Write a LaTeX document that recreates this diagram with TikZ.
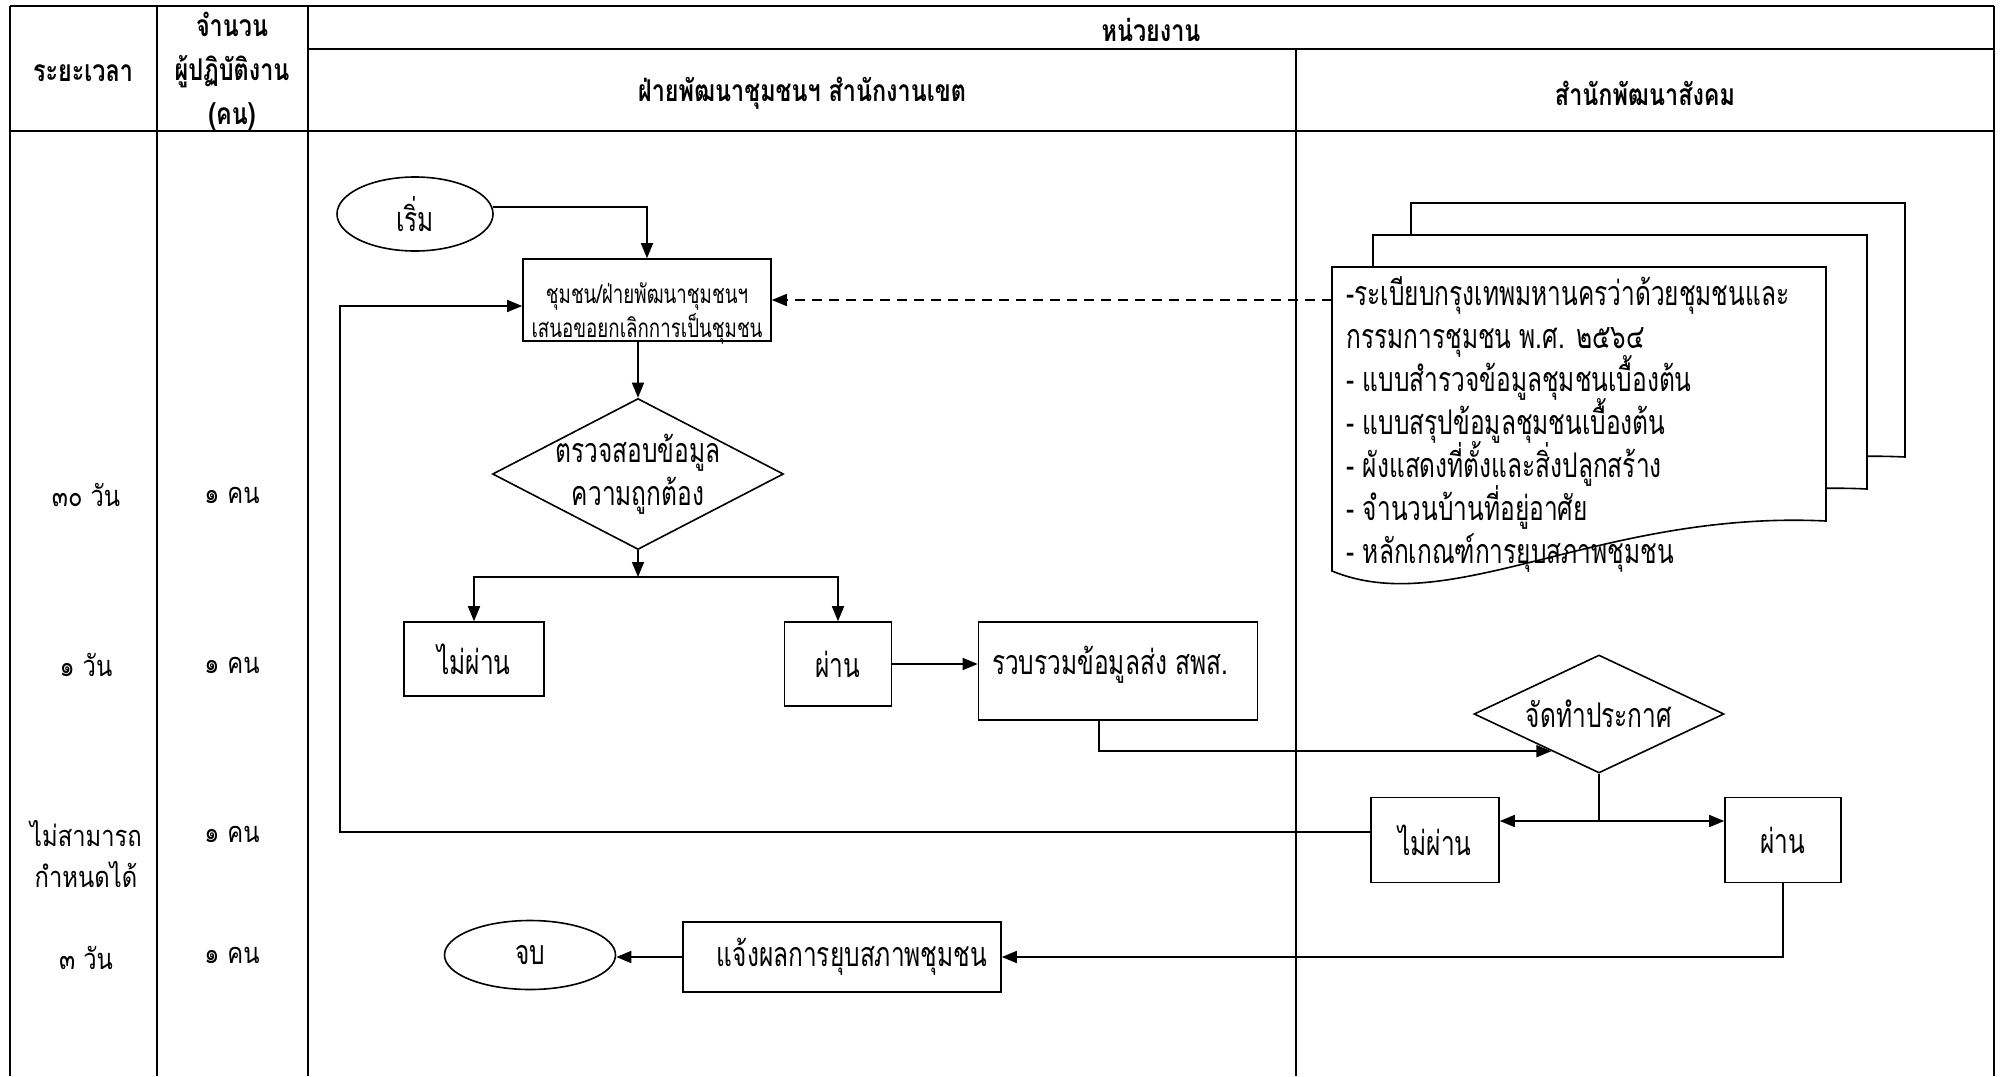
\documentclass[tikz,border=0pt]{standalone}
\usepackage{fontspec}
\usetikzlibrary{shapes.geometric,arrows.meta,calc}
% Thai faces: condensed for flowchart text, bold for the table header
\newfontfamily\thaibody[Script=Thai,FakeStretch=0.72]{Loma}
\newfontfamily\thaihead[Script=Thai,FakeStretch=0.78]{Loma}
\newfontfamily\thairow[Script=Thai,FakeStretch=0.82]{Loma}
% fixed line pitch even when tone marks stack high
\newcommand\tightlines{\lineskiplimit=-100pt\lineskip=0pt}

\begin{document}
\begin{tikzpicture}[x=1pt,y=-1pt,
  grid/.style={line width=2.2pt},
  shp/.style={draw,line width=1.6pt,fill=white,inner sep=0pt},
  boxn/.style={shp,rectangle},
  dia/.style={shp,diamond},
  oval/.style={shp,ellipse},
  body/.style={font=\thaibody\fontsize{34}{43}\selectfont\tightlines},
  small/.style={font=\thaibody\fontsize{26}{34}\selectfont\tightlines},
  head/.style={font=\thaihead\bfseries\fontsize{30}{44}\selectfont\tightlines,align=center},
  rowt/.style={font=\thairow\fontsize{29}{41}\selectfont\tightlines,align=center},
  flow/.style={line width=1.6pt,-{Triangle[length=15pt,width=12pt]}},
  plain/.style={line width=1.6pt},
  docsheet/.pic={\draw[line width=1.6pt,fill=white]
    (0,0) -- (494,0) -- (494,254) .. controls (268,243) and (118,353) .. (0,304) -- cycle;},
]
\useasboundingbox (0,0) rectangle (2002,1076);
\fill[white] (0,0) rectangle (2002,1076);

% ---- table frame ----
\draw[grid] (10,6) -- (1994,6);
\draw[grid] (308,49) -- (1994,49);
\draw[grid] (10,131) -- (1994,131);
\draw[grid] (10,6) -- (10,1076);
\draw[grid] (157,6) -- (157,1076);
\draw[grid] (308,6) -- (308,1076);
\draw[grid] (1296,49) -- (1296,1076);
\draw[grid] (1994,6) -- (1994,1076);

% ---- header ----
\node[head] (hTime) at (83,73) {ระยะเวลา};
\node[head] (hStaff) at (232,71) {จำนวน\\ผู้ปฏิบัติงาน\\(คน)};
\node[head] (hUnit) at (1151,30) {หน่วยงาน};
\node[head] (hDist) at (802,93) {ฝ่ายพัฒนาชุมชนฯ สำนักงานเขต};
\node[head] (hSoc) at (1645,93) {สำนักพัฒนาสังคม};

% ---- time and staff per step ----
\node[rowt] (t1) at (86,495) {๓๐ วัน};
\node[rowt] (t2) at (86,665) {๑ วัน};
\node[rowt] (t3) at (86,854) {ไม่สามารถ\\กำหนดได้};
\node[rowt] (t4) at (86,958) {๓ วัน};
\node[rowt] (s1) at (232,495) {๑ คน};
\node[rowt] (s2) at (232,665) {๑ คน};
\node[rowt] (s3) at (232,834) {๑ คน};
\node[rowt] (s4) at (232,955) {๑ คน};

% ---- document stack ----
\pic at (1411,203) {docsheet};
\pic at (1373,235) {docsheet};
\pic at (1332,267) {docsheet};
\coordinate (docw) at (1332,300);
\node[body,anchor=north west,align=left] (doctext) at (1343,273)
  {-ระเบียบกรุงเทพมหานครว่าด้วยชุมชนและ\\
   กรรมการชุมชน พ.ศ. ๒๕๖๔\\
   - แบบสำรวจข้อมูลชุมชนเบื้องต้น\\
   - แบบสรุปข้อมูลชุมชนเบื้องต้น\\
   - ผังแสดงที่ตั้งและสิ่งปลูกสร้าง\\
   - จำนวนบ้านที่อยู่อาศัย\\
   - หลักเกณฑ์การยุบสภาพชุมชน};

% ---- flowchart nodes ----
\node[oval,minimum width=156,minimum height=74,body] (start) at (415,214) {เริ่ม};
\node[boxn,minimum width=248,minimum height=82] (req) at (647,300) {};
\node[small,align=center] (reqt) at ([yshift=-13pt]req.center)
  {ชุมชน/ฝ่ายพัฒนาชุมชนฯ\\เสนอขอยกเลิกการเป็นชุมชน};
\node[dia,minimum width=291,minimum height=151] (chk) at (638,474) {};
\node[body,align=center] (chkt) at (chk) {ตรวจสอบข้อมูล\\ความถูกต้อง};
\coordinate (j1) at (638,577);
\node[boxn,minimum width=140,minimum height=74,body] (fail1) at (474,659) {ไม่ผ่าน};
\node[boxn,minimum width=107,minimum height=84,body] (pass1) at (838,664) {ผ่าน};
\node[boxn,minimum width=279,minimum height=98] (coll) at (1118,671) {};
\node[body] (collt) at ([xshift=-8pt,yshift=6pt]coll.center) {รวบรวมข้อมูลส่ง สพส.};
\node[dia,minimum width=250,minimum height=118] (ann) at (1599,714) {};
\node[body] (annt) at (ann) {จัดทำประกาศ};
\coordinate (j2) at (1599,821);
\node[boxn,minimum width=128,minimum height=85,body] (fail2) at (1435,840) {ไม่ผ่าน};
\node[boxn,minimum width=116,minimum height=85,body] (pass2) at (1783,840) {ผ่าน};
\node[boxn,minimum width=318,minimum height=70] (notify) at (842,957) {};
\node[body] (notifyt) at ([xshift=10pt]notify.center) {แจ้งผลการยุบสภาพชุมชน};
\node[oval,minimum width=171,minimum height=69,body] (stop) at (530,955) {จบ};
\coordinate (loop) at (340,832);

% ---- connectors ----
\draw[flow] (start.5) -| (req.north);
\draw[flow] (req.south -| chk.north) -- (chk.north);
\draw[flow] (chk.south) -- (j1);
\draw[flow] (j1) -| (fail1.north);
\draw[flow] (j1) -| (pass1.north);
\draw[flow] (pass1.east) -- (coll.west |- pass1.east);
\draw[flow] ([xshift=-19pt]coll.south) |- (ann.218);
\draw[plain] (ann.south) -- (j2);
\draw[flow] (j2) -- (j2 -| fail2.east);
\draw[flow] (j2) -- (j2 -| pass2.west);
\draw[flow] (fail2.west |- loop) -- (loop) |- ([yshift=-6pt]req.west);
\draw[flow,dash pattern=on 10pt off 7pt] (docw) -- (req.east |- docw);
\draw[flow] (pass2.south) |- (notify.east);
\draw[flow] (notify.west) -- (notify.west -| stop.east);
\end{tikzpicture}
\end{document}
